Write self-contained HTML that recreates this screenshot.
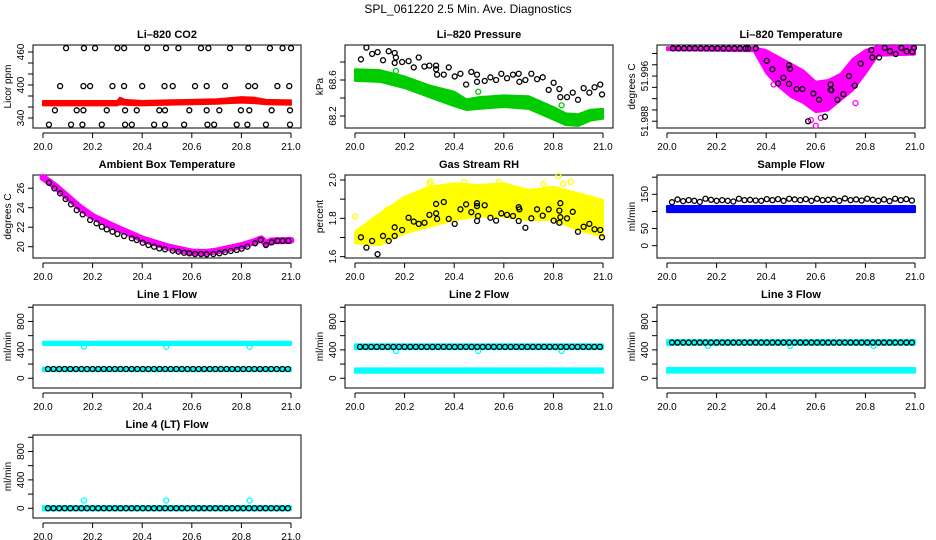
<!DOCTYPE html>
<html><head><meta charset="utf-8">
<style>
html,body{margin:0;padding:0;background:#fff;}
svg{display:block;font-family:"Liberation Sans",sans-serif;}
</style></head>
<body>
<svg id="chart" width="936" height="540" viewBox="0 0 936 540">
<text x="468" y="13" text-anchor="middle" font-size="12">SPL_061220  2.5 Min. Ave. Diagnostics</text>
</svg>
<script>
// ---------- shared data ----------
const xTicks = [20.0, 20.2, 20.4, 20.6, 20.8, 21.0];
const xTickLabels = ["20.0", "20.2", "20.4", "20.6", "20.8", "21.0"];
const flowX = [20.02,20.0425,20.065,20.0875,20.11,20.1325,20.155,20.1775,20.2,20.2225,20.245,20.2675,20.29,20.3125,20.335,20.3575,20.38,20.4025,20.425,20.4475,20.47,20.4925,20.515,20.5375,20.56,20.5825,20.605,20.6275,20.65,20.6725,20.695,20.7175,20.74,20.7625,20.785,20.8075,20.83,20.8525,20.875,20.8975,20.92,20.9425,20.965,20.9875];
const outlierX = [20.165, 20.497, 20.833];

// CO2
const co2X = [20.093,20.165,20.21,20.30,20.327,20.42,20.496,20.546,20.637,20.667,20.754,20.828,20.915,20.966,21.0,
 20.069,20.163,20.19,20.28,20.327,20.40,20.49,20.523,20.613,20.66,20.734,20.828,20.855,20.945,20.993,
 20.048,20.136,20.163,20.257,20.331,20.378,20.469,20.492,20.59,20.66,20.711,20.798,20.832,20.922,20.996,
 20.024,20.113,20.159,20.237,20.331,20.358,20.448,20.492,20.569,20.663,20.69,20.781,20.824,20.899,20.996];
const co2Val = [467,467,467,467,467,467,467,467,467,467,467,467,467,467,467,
 398,398,398,398,398,398,398,398,398,398,398,398,398,398,398,
 354,354,354,354,354,354,354,354,354,354,354,354,354,354,354,
 328,328,328,328,328,328,328,328,328,328,328,328,328,328,328];
const co2BandX = [20.0,20.1,20.2,20.3,20.31,20.33,20.4,20.5,20.6,20.7,20.75,20.8,20.85,20.9,21.0];
const co2BandHi = [371,371,371,371,377,373,371,372,373,374,376,378,377,373,372];
const co2BandLo = [363,363,363,363,365,364,363,364,365,366,367,368,367,365,364];

// Pressure
const presX = [20.024,20.046,20.069,20.091,20.113,20.136,20.160,20.160,20.165,20.19,20.216,20.237,20.257,20.28,20.30,20.327,20.327,20.331,20.358,20.378,20.402,20.425,20.448,20.469,20.492,20.492,20.523,20.546,20.569,20.59,20.613,20.637,20.66,20.663,20.687,20.711,20.734,20.757,20.781,20.801,20.824,20.828,20.855,20.878,20.899,20.922,20.945,20.966,20.989,20.996];
const presVal = [68.83,68.96,68.89,68.91,68.82,68.92,68.90,68.79,68.85,68.80,68.81,68.74,68.85,68.75,68.76,68.76,68.72,68.66,68.66,68.74,68.64,68.67,68.55,68.69,68.66,68.58,68.59,68.63,68.60,68.67,68.62,68.66,68.67,68.58,68.60,68.67,68.61,68.63,68.49,68.57,68.50,68.41,68.41,68.46,68.38,68.51,68.46,68.52,68.55,68.44];
const presBandX = [20.0,20.1,20.2,20.3,20.4,20.45,20.5,20.6,20.7,20.8,20.85,20.9,20.95,21.0];
const presBandHi = [68.72,68.71,68.64,68.54,68.47,68.385,68.41,68.43,68.42,68.30,68.23,68.22,68.27,68.28];
const presBandLo = [68.59,68.58,68.51,68.41,68.31,68.267,68.28,68.30,68.28,68.16,68.10,68.09,68.15,68.17];
const presGreenVal = [68.70, 68.47, 68.32];

// Li-820 temperature
const tempX = [20.024,20.046,20.069,20.091,20.113,20.136,20.159,20.181,20.204,20.227,20.249,20.272,20.294,20.317,20.327,20.358,20.402,20.425,20.448,20.469,20.492,20.492,20.496,20.523,20.546,20.59,20.613,20.569,20.637,20.66,20.66,20.663,20.687,20.711,20.734,20.757,20.781,20.824,20.828,20.855,20.878,20.899,20.922,20.945,20.966,20.989,20.996];
const tempVal = [52.0009,52.0009,52.0009,52.0009,52.0009,52.0009,52.0009,52.0009,52.0009,52.0009,52.0009,52.0009,52.0009,52.0009,52.0009,52.0009,51.9987,51.9972,51.9947,51.9957,51.9979,51.9946,51.9973,51.9937,51.9937,51.9929,51.9918,51.988,51.9888,51.9945,51.9936,51.9935,51.9918,51.9928,51.996,51.9943,51.9982,52.0006,51.9993,51.9993,52.0010,52.0004,51.9999,52.0010,52.0004,52.0003,52.0010];
const tempBandX = [20.0,20.35,20.4,20.45,20.5,20.55,20.6,20.65,20.7,20.75,20.8,20.85,21.0];
const tempBandHi = [52.0011,52.0011,52.0006,51.9994,51.9982,51.997,51.995,51.9953,51.9964,51.9991,52.0006,52.0013,52.0013];
const tempBandLo = [52.0006,52.0004,51.9965,51.9941,51.9923,51.9912,51.9896,51.9899,51.9917,51.9935,51.9964,51.9996,51.9998];
const tempMagX = [20.43,20.52,20.58,20.6,20.62,20.76,20.44,20.54];
const tempMagVal = [51.9945,51.9925,51.9882,51.9872,51.9886,51.9912,51.9975,51.9955];

// Ambient box temperature
const ambX = [20.024,20.046,20.069,20.091,20.113,20.136,20.16,20.19,20.216,20.237,20.257,20.28,20.30,20.327,20.358,20.378,20.402,20.425,20.448,20.469,20.492,20.523,20.546,20.569,20.59,20.613,20.637,20.66,20.687,20.711,20.734,20.757,20.781,20.801,20.824,20.855,20.878,20.899,20.922,20.945,20.966,20.989];
const ambVal = [26.56,25.99,25.48,24.89,24.35,23.76,23.32,22.74,22.40,22.05,21.78,21.54,21.30,21.10,20.86,20.69,20.41,20.17,20.0,19.83,19.73,19.59,19.49,19.38,19.32,19.25,19.25,19.22,19.25,19.32,19.45,19.56,19.66,19.80,20.0,20.35,20.69,20.17,20.45,20.6,20.6,20.6];
const ambMagX = [20.0,20.05,20.1,20.15,20.2,20.3,20.4,20.5,20.6,20.65,20.7,20.8,20.85,20.88,20.9,20.92,21.0];
const ambMagVal = [27.1,26.2,25.1,24.0,23.1,21.9,20.8,20.0,19.45,19.4,19.55,20.1,20.5,20.8,20.3,20.6,20.65];

// Gas stream RH
const rhX = [20.024,20.046,20.069,20.091,20.113,20.136,20.160,20.160,20.190,20.216,20.237,20.257,20.280,20.300,20.327,20.327,20.331,20.358,20.378,20.402,20.425,20.448,20.469,20.492,20.492,20.492,20.496,20.523,20.546,20.569,20.590,20.613,20.637,20.660,20.660,20.663,20.687,20.711,20.734,20.757,20.781,20.801,20.824,20.824,20.828,20.828,20.855,20.878,20.899,20.922,20.945,20.966,20.989,20.996];
const rhVal = [1.701,1.647,1.682,1.613,1.708,1.682,1.753,1.708,1.739,1.803,1.783,1.771,1.777,1.818,1.875,1.826,1.797,1.885,1.797,1.771,1.847,1.873,1.832,1.879,1.864,1.786,1.812,1.868,1.803,1.788,1.826,1.818,1.812,1.858,1.786,1.847,1.751,1.80,1.847,1.814,1.847,1.788,1.84,1.777,1.879,1.806,1.80,1.834,1.73,1.756,1.771,1.743,1.739,1.701];
const rhBandX = [20.0,20.1,20.2,20.3,20.4,20.5,20.6,20.7,20.8,20.9,21.0];
const rhBandHi = [1.73,1.826,1.913,1.965,1.983,1.974,1.983,1.948,1.965,1.931,1.896];
const rhBandLo = [1.67,1.661,1.722,1.756,1.791,1.809,1.809,1.791,1.791,1.739,1.704];
const rhYelX = [20.0,20.3,20.305,20.44,20.58,20.76,20.82,20.84,20.87,20.99,20.13,20.9];
const rhYelVal = [1.81,1.98,1.99,1.99,1.99,1.98,2.02,1.98,1.99,1.87,1.845,1.90];

// Sample flow
const sampBandX = [20.0,20.25,20.5,20.75,21.0];
const sampBandHi = [116,116,116,116,116];
const sampBandLo = [98,98,98,98,98];
const sampVal = [127,135,130,133,131,128,137,134,131,133,131,129,137,133,134,132,131,136,133,136,131,137,135,133,136,131,137,133,134,136,131,138,133,135,132,137,134,131,135,130,137,133,136,132];

// Line flows
const l1Val = [131,131,131,131,131,131,131,131,131,131,131,131,131,131,131,131,131,131,131,131,131,131,131,131,131,131,131,131,131,131,131,131,131,131,131,131,131,131,131,131,131,131,131,131];
const l2Val = [442,442,442,442,442,442,442,442,442,442,442,442,442,442,442,442,442,442,442,442,442,442,442,442,442,442,442,442,442,442,442,442,442,442,442,442,442,442,442,442,442,442,442,442];
const l3Val = [503,503,503,503,503,503,503,503,503,503,503,503,503,503,503,503,503,503,503,503,503,503,503,503,503,503,503,503,503,503,503,503,503,503,503,503,503,503,503,503,503,503,503,503];
const l4Val = [0,0,0,0,0,0,0,0,0,0,0,0,0,0,0,0,0,0,0,0,0,0,0,0,0,0,0,0,0,0,0,0,0,0,0,0,0,0,0,0,0,0,0,0];
const flowBandX = [20.0, 21.0];
const l1HiBand = [[468,468],[515,515]];
const l1LoBand = [[100,100],[150,150]];
const l2HiBand = [[410,410],[480,480]];
const l2LoBand = [[78,78],[140,140]];
const l3HiBand = [[471,471],[537,537]];
const l3LoBand = [[80,80],[145,145]];
const l4Band = [[-30,-30],[30,30]];
const l1OutVal = [443,443,443];
const l2OutVal = [386,386,386];
const l3OutVal = [456,456,456];
const l4OutVal = [109,109,109];

// ---------- drawing ----------
const NS = "http://www.w3.org/2000/svg";
const svg = document.getElementById("chart");
function mk(tag, attrs, parent) {
  const e = document.createElementNS(NS, tag);
  for (const k in attrs) e.setAttribute(k, attrs[k]);
  (parent || svg).appendChild(e);
  return e;
}

function makePanel(col, row, title, ylab, lo, hi, yTicks, yLabVals, yLabs, pname) {
  const cx = col * 312;
  const left = cx + 33, right = cx + 301;
  const top = 45 + row * 130, bottom = top + 83;
  const g = mk("g", {});
  
  
  const sx = v => cx + 43 + (v - 20) * 248;
  const sy = v => bottom - (v - lo) / (hi - lo) * 83;
  const t = mk("text", {x: (left + right) / 2, y: top - 7, "text-anchor": "middle", "font-size": 11, "font-weight": "bold"}, g);
  t.textContent = title;
  
  
  const yl = mk("text", {x: 0, y: 0, "text-anchor": "middle", "font-size": 10, transform: `translate(${cx + 11},${(top + bottom) / 2}) rotate(-90)`}, g);
  yl.textContent = ylab;
  
  
  const box = mk("rect", {x: left, y: top, width: right - left, height: bottom - top, fill: "none", stroke: "#000", "stroke-width": 1}, g);
  
  
  const xa = mk("g", {}, g);
  
  
  mk("line", {x1: sx(xTicks[0]), x2: sx(xTicks[xTicks.length - 1]), y1: bottom + 5, y2: bottom + 5, stroke: "#000"}, xa);
  xTicks.forEach((v, i) => {
    mk("line", {x1: sx(v), x2: sx(v), y1: bottom + 5, y2: bottom + 10, stroke: "#000"}, xa);
    const tl = mk("text", {x: sx(v), y: bottom + 22, "text-anchor": "middle", "font-size": 10}, xa);
    tl.textContent = xTickLabels[i];
    
    
  });
  const ya = mk("g", {}, g);
  
  
  mk("line", {x1: left, x2: left, y1: sy(yTicks[0]), y2: sy(yTicks[yTicks.length - 1]), stroke: "#000"}, ya);
  yTicks.forEach(v => mk("line", {x1: left - 5, x2: left, y1: sy(v), y2: sy(v), stroke: "#000"}, ya));
  yLabVals.forEach((v, i) => {
    const tl = mk("text", {x: 0, y: 0, "text-anchor": "middle", "font-size": 10, transform: `translate(${left - 9},${sy(v)}) rotate(-90)`}, ya);
    tl.textContent = yLabs[i];
    
    
  });
  return {g, sx, sy, top, bottom, left, right};
}

function points(p, xs, ys, color, name) {
  const grp = mk("g", {fill: "none", stroke: color, "stroke-width": 1.3}, p.g);
  
  
  xs.forEach((x, i) => {
    const c = mk("circle", {cx: p.sx(x), cy: p.sy(ys[i]), r: 2.5}, grp);
    
    
  });
}
function band(p, xs, hi, lo, color, name) {
  const up = xs.map((x, i) => p.sx(x) + "," + p.sy(hi[i]));
  const dn = xs.map((x, i) => p.sx(x) + "," + p.sy(lo[i])).reverse();
  const poly = mk("polygon", {points: up.concat(dn).join(" "), fill: color, stroke: color, "stroke-width": 2, "stroke-linejoin": "round"}, p.g);
  
  
}
function line(p, xs, ys, color, w, name) {
  const pl = mk("polyline", {points: xs.map((x, i) => p.sx(x) + "," + p.sy(ys[i])).join(" "), fill: "none", stroke: color, "stroke-width": w, "stroke-linejoin": "round", "stroke-linecap": "round"}, p.g);
  
  
}

let p = makePanel(0, 0, "Li–820 CO2", "Licor ppm", 321.8, 472.7, [340,360,380,400,420,440,460], [340,400,460], ["340","400","460"], "co2");
band(p, co2BandX, co2BandHi, co2BandLo, "#ff0000", "co2-red-series");
points(p, co2X, co2Val, "#000", "co2-black-series");

p = makePanel(1, 0, "Li–820 Pressure", "kPa", 68.067, 68.989, [68.2,68.4,68.6,68.8], [68.2,68.6], ["68.2","68.6"], "pressure");
band(p, presBandX, presBandHi, presBandLo, "#00cc00", "pressure-green-series");
points(p, outlierX, presGreenVal, "#00cc00", "pressure-green-outliers");
points(p, presX, presVal, "#000", "pressure-black-series");

p = makePanel(2, 0, "Li–820 Temperature", "degrees C", 51.9868, 52.0015, [51.988,51.990,51.992,51.994,51.996,51.998,52.000], [51.988,51.996], ["51.988","51.996"], "li820-temp");
band(p, tempBandX, tempBandHi, tempBandLo, "#ff00ff", "li820-temp-magenta-series");
points(p, tempMagX, tempMagVal, "#ff00ff", "li820-temp-magenta-points");
points(p, tempX, tempVal, "#000", "li820-temp-black-series");

p = makePanel(0, 1, "Ambient Box Temperature", "degrees C", 18.84, 27.36, [20,22,24,26], [20,22,24,26], ["20","22","24","26"], "ambient");
line(p, ambMagX, ambMagVal, "#ff00ff", 7, "ambient-magenta-series");
points(p, ambX, ambVal, "#000", "ambient-black-series");

p = makePanel(1, 1, "Gas Stream RH", "percent", 1.593, 2.026, [1.6,1.7,1.8,1.9,2.0], [1.6,1.8,2.0], ["1.6","1.8","2.0"], "rh");
band(p, rhBandX, rhBandHi, rhBandLo, "#ffff00", "rh-yellow-series");
points(p, rhYelX, rhYelVal, "#ffff00", "rh-yellow-points");
points(p, rhX, rhVal, "#000", "rh-black-series");

p = makePanel(2, 1, "Sample Flow", "ml/min", -36, 206.4, [0,50,100,150,200], [0,50,150], ["0","50","150"], "sample-flow");
band(p, sampBandX, sampBandHi, sampBandLo, "#0000ff", "sample-flow-blue-series");
points(p, flowX, sampVal, "#000", "sample-flow-black-series");

const fT = [0,200,400,600,800,1000], fL = [0,400,800], fLs = ["0","400","800"];
p = makePanel(0, 2, "Line 1 Flow", "ml/min", -137, 1032, fT, fL, fLs, "line1-flow");
band(p, flowBandX, l1HiBand[0], l1HiBand[1], "#00ffff", "line1-cyan-high-series");
band(p, flowBandX, l1LoBand[0], l1LoBand[1], "#00ffff", "line1-cyan-low-series");
points(p, outlierX, l1OutVal, "#00ffff", "line1-cyan-outliers");
points(p, flowX, l1Val, "#000", "line1-black-series");

p = makePanel(1, 2, "Line 2 Flow", "ml/min", -137, 1032, fT, fL, fLs, "line2-flow");
band(p, flowBandX, l2HiBand[0], l2HiBand[1], "#00ffff", "line2-cyan-high-series");
band(p, flowBandX, l2LoBand[0], l2LoBand[1], "#00ffff", "line2-cyan-low-series");
points(p, outlierX, l2OutVal, "#00ffff", "line2-cyan-outliers");
points(p, flowX, l2Val, "#000", "line2-black-series");

p = makePanel(2, 2, "Line 3 Flow", "ml/min", -137, 1032, fT, fL, fLs, "line3-flow");
band(p, flowBandX, l3HiBand[0], l3HiBand[1], "#00ffff", "line3-cyan-high-series");
band(p, flowBandX, l3LoBand[0], l3LoBand[1], "#00ffff", "line3-cyan-low-series");
points(p, outlierX, l3OutVal, "#00ffff", "line3-cyan-outliers");
points(p, flowX, l3Val, "#000", "line3-black-series");

p = makePanel(0, 3, "Line 4 (LT) Flow", "ml/min", -137, 1032, fT, fL, fLs, "line4-flow");
band(p, flowBandX, l4Band[0], l4Band[1], "#00ffff", "line4-cyan-series");
points(p, outlierX, l4OutVal, "#00ffff", "line4-cyan-outliers");
points(p, flowX, l4Val, "#000", "line4-black-series");
</script>
</body></html>
